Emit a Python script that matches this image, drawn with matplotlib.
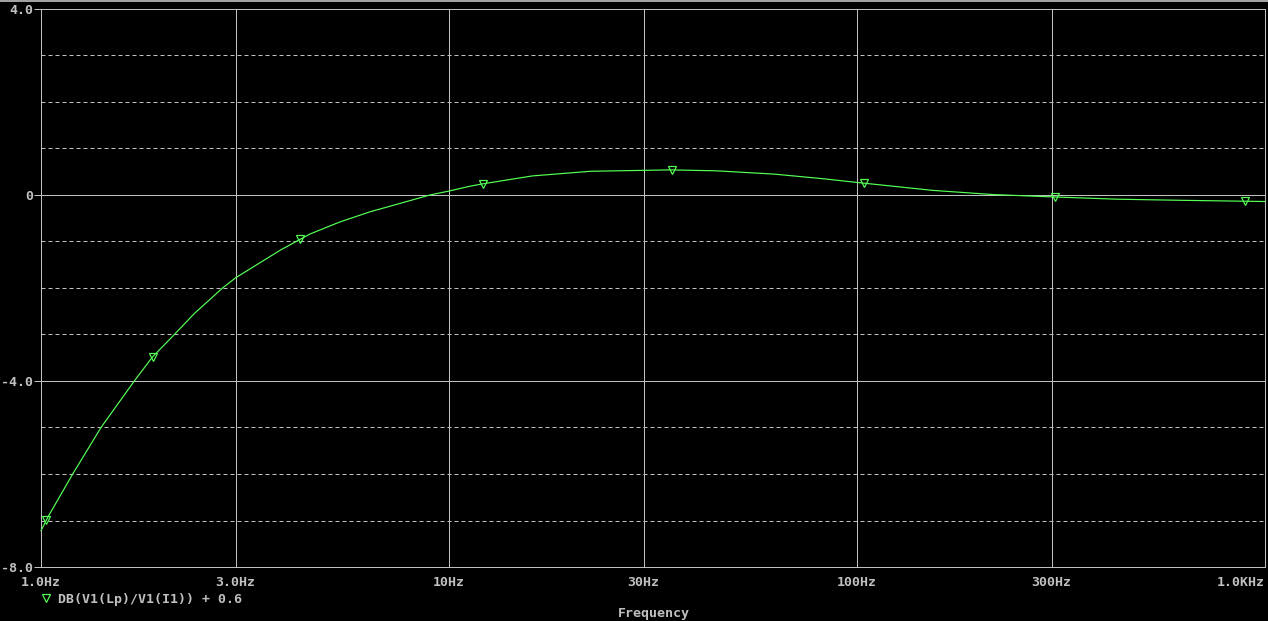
import numpy as np
import matplotlib
matplotlib.use("Agg")
import matplotlib.pyplot as plt
from matplotlib.lines import Line2D

# ---- data ----
freq_hz = [1.0, 1.039, 1.196, 1.403, 1.693, 1.877, 2.123, 2.375, 2.786, 3.0, 3.87,
           4.56, 5.40, 6.41, 7.59, 8.98, 10.0, 11.27, 12.1, 16.0, 22.2, 30.0, 35.0,
           45.2, 62.5, 82.6, 100.0, 153.0, 215.0, 300.0, 433.0, 631.0, 1000.0]
db_values = [-7.22, -6.93, -6.0, -5.0, -4.0, -3.48, -3.0, -2.55, -2.0, -1.78, -1.18,
             -0.84, -0.58, -0.36, -0.18, 0.0, 0.085, 0.19, 0.24, 0.41, 0.51, 0.53, 0.54,
             0.52, 0.45, 0.35, 0.27, 0.10, 0.01, -0.04, -0.09, -0.115, -0.14]
marker_freq = [1.029, 1.877, 4.32, 12.1, 35.3, 104.0, 305.0, 893.0]
marker_db = [-6.99, -3.48, -0.95, 0.24, 0.54, 0.26, -0.04, -0.135]

x_ticks = [1, 3, 10, 30, 100, 300, 1000]
x_tick_labels = ["1.0Hz", "3.0Hz", "10Hz", "30Hz", "100Hz", "300Hz", "1.0KHz"]
y_ticks = [4, 0, -4, -8]
y_tick_labels = ["4.0", "0", "-4.0", "-8.0"]
y_dashed = [3, 2, 1, -1, -2, -3, -5, -6, -7]
legend_text = "DB(V1(Lp)/V1(I1)) + 0.6"
x_title = "Frequency"

# ---- style ----
W, H = 1268, 621
DPI = 100
GRID = "#c0c0c0"
GREEN = "#55ff55"
TXT = "#c0c0c0"
PX = 72.0 / DPI  # one pixel in points
FONT = dict(family="DejaVu Sans Mono", fontsize=9.5, fontweight="bold", color=TXT)

fig = plt.figure(figsize=(W / DPI, H / DPI), dpi=DPI, facecolor="black")
left, right, top, bottom = 41, 1265, 9, 567
ax = fig.add_axes([left / W, 1 - bottom / H, (right - left) / W, (bottom - top) / H])
ax.set_facecolor("black")
ax.set_xscale("log")
ax.set_xlim(1, 1000)
ax.set_ylim(-8, 4)

for s in ax.spines.values():
    s.set_color(GRID)
    s.set_linewidth(PX)

# grid
for xv in x_ticks[1:-1]:
    ax.axvline(xv, color=GRID, lw=PX, zorder=1)
for yv in [0, -4]:
    ax.axhline(yv, color=GRID, lw=PX, zorder=1)
for yv in y_dashed:
    ax.axhline(yv, color=GRID, lw=PX, linestyle=(0, (4, 3)), zorder=1)

# curve
ax.plot(freq_hz, db_values, color=GREEN, lw=PX * 1.2, zorder=3, clip_on=False)
ax.plot(marker_freq, marker_db, linestyle="none", marker="v", markersize=5.5,
        markerfacecolor="none", markeredgecolor=GREEN, markeredgewidth=PX * 1.2, zorder=4)

# ticks
ax.set_xticks(x_ticks)
ax.set_xticklabels([])
ax.xaxis.set_minor_locator(matplotlib.ticker.NullLocator())
ax.set_yticks(y_ticks)
ax.set_yticklabels([])
ax.tick_params(axis="x", length=0)
ax.tick_params(axis="y", length=5, width=PX, color=GRID, direction="out")

for xv, lab in zip(x_ticks, x_tick_labels):
    ha = "center"
    if xv == 1000:
        ha = "right"
    ax.annotate(lab, xy=(xv, -8), xycoords="data", xytext=(0, -11.2),
                textcoords="offset points", ha=ha, va="center", **FONT)
for yv, lab in zip(y_ticks, y_tick_labels):
    ax.annotate(lab, xy=(1, yv), xycoords="data", xytext=(-5.5, -1.2),
                textcoords="offset points", ha="right", va="center", **FONT)

# legend
fig.add_artist(Line2D([46 / W], [1 - 598 / H], marker="v", markersize=5.5,
                      markerfacecolor="none", markeredgecolor=GREEN,
                      markeredgewidth=PX * 1.2, linestyle="none"))
fig.text(58 / W, 1 - 599 / H, legend_text, ha="left", va="center", **FONT)
fig.text(654 / W, 1 - 613.5 / H, x_title, ha="center", va="center", **FONT)

# window top border
fig.add_artist(Line2D([0, 1], [1 - 0.5 / H, 1 - 0.5 / H], color="#a0a0a0", lw=2 * PX))

fig.savefig("out.png", dpi=DPI, facecolor="black")
